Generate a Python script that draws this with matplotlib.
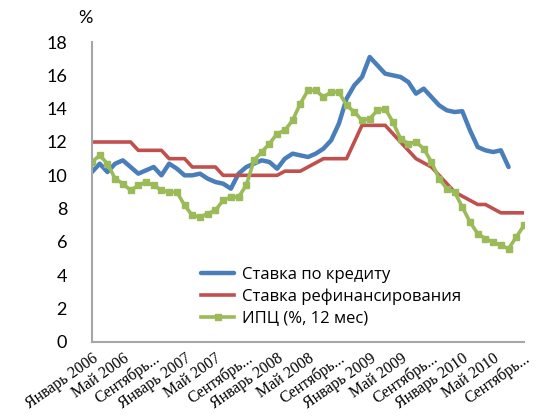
import numpy as np
import matplotlib.pyplot as plt

# months Jan 2006 .. Sep 2010, labels every 4 months
months = ["Январь 2006", "Май 2006", "Сентябрь...", "Январь 2007", "Май 2007",
          "Сентябрь...", "Январь 2008", "Май 2008", "Сентябрь...", "Январь 2009",
          "Май 2009", "Сентябрь...", "Январь 2010", "Май 2010", "Сентябрь..."]

# Ставка по кредиту (Jan 2006 .. Jul 2010)
loan = [10.2, 10.7, 10.2, 10.7, 10.9, 10.5, 10.1, 10.3, 10.5, 10.0, 10.7, 10.4,
        10.0, 10.0, 10.1, 9.8, 9.6, 9.5, 9.2, 10.1, 10.5, 10.7, 10.9, 10.8,
        10.4, 11.0, 11.3, 11.2, 11.1, 11.3, 11.6, 12.1, 13.1, 14.6, 15.4, 15.9,
        17.1, 16.6, 16.1, 16.0, 15.9, 15.6, 14.9, 15.2, 14.7, 14.2, 13.9, 13.8,
        13.85, 12.7, 11.7, 11.5, 11.4, 11.5, 10.5]

# Ставка рефинансирования (Jan 2006 .. Sep 2010)
refi = [12, 12, 12, 12, 12, 12, 11.5, 11.5, 11.5, 11.5, 11, 11,
        11, 10.5, 10.5, 10.5, 10.5, 10, 10, 10, 10, 10, 10, 10,
        10, 10.25, 10.25, 10.25, 10.5, 10.75, 11, 11, 11, 11, 12, 13,
        13, 13, 13, 12.5, 12, 11.5, 11, 10.75, 10.5, 10, 9.5, 9,
        8.75, 8.5, 8.25, 8.25, 8, 7.75, 7.75, 7.75, 7.75]

# ИПЦ (%, 12 мес) (Jan 2006 .. Sep 2010)
cpi = [10.8, 11.2, 10.7, 9.8, 9.5, 9.1, 9.4, 9.6, 9.4, 9.1, 9.0, 9.0,
       8.2, 7.6, 7.5, 7.7, 7.9, 8.5, 8.7, 8.7, 9.4, 10.9, 11.4, 11.9,
       12.5, 12.7, 13.3, 14.3, 15.1, 15.1, 14.7, 15.0, 15.0, 14.2, 13.8, 13.3,
       13.4, 13.9, 14.0, 13.2, 12.2, 11.9, 12.0, 11.6, 10.8, 9.8, 9.2, 9.0,
       8.1, 7.2, 6.5, 6.2, 6.0, 5.8, 5.6, 6.3, 7.0]

blue = '#4A7EBB'
red = '#C0504D'
green = '#9BBB59'

fig = plt.figure(figsize=(5.37, 4.2), dpi=100)
ax = fig.add_axes([92/537, 78/420, 432/537, 300/420])

x_loan = np.arange(len(loan))
x_all = np.arange(len(refi))

l1, = ax.plot(x_loan, loan, color=blue, linewidth=3.2, solid_capstyle='round',
              solid_joinstyle='round', label='Ставка по кредиту')
l2, = ax.plot(x_all, refi, color=red, linewidth=2.6, solid_joinstyle='round',
              label='Ставка рефинансирования')
l3, = ax.plot(x_all, cpi, color=green, linewidth=2.6, marker='s', markersize=5,
              solid_joinstyle='round', label='ИПЦ (%, 12 мес)')

ax.set_xlim(0, len(refi) - 1)
ax.set_ylim(0, 18)
ax.set_yticks(np.arange(0, 19, 2))
ax.set_xticks(np.arange(0, len(refi), 4))
ax.set_xticklabels(months, rotation=35, ha='right', va='top',
                   rotation_mode='anchor', family='Liberation Serif', fontsize=11.5)
for t in ax.get_yticklabels():
    t.set_family('Lato')
    t.set_fontsize(13)
ax.tick_params(axis='both', length=0)
ax.tick_params(axis='y', pad=18)
ax.tick_params(axis='x', pad=6)

for s in ['top', 'right']:
    ax.spines[s].set_visible(False)
for s in ['left', 'bottom']:
    ax.spines[s].set_color('#A6A6A6')
    ax.spines[s].set_linewidth(1.5)

fig.text(85/537, 1 - 18/420, '%', family='Lato', fontsize=13, ha='center', va='center')

leg = ax.legend(handles=[l1, l2, l3], loc='upper left',
                bbox_to_anchor=(201/537, 1 - 267/420), bbox_transform=fig.transFigure,
                frameon=False, handlelength=2.0, handletextpad=0.45,
                labelspacing=0.33, borderaxespad=0, borderpad=0,
                prop={'family': 'Open Sans', 'size': 12})

fig.savefig('out.png', dpi=100)
